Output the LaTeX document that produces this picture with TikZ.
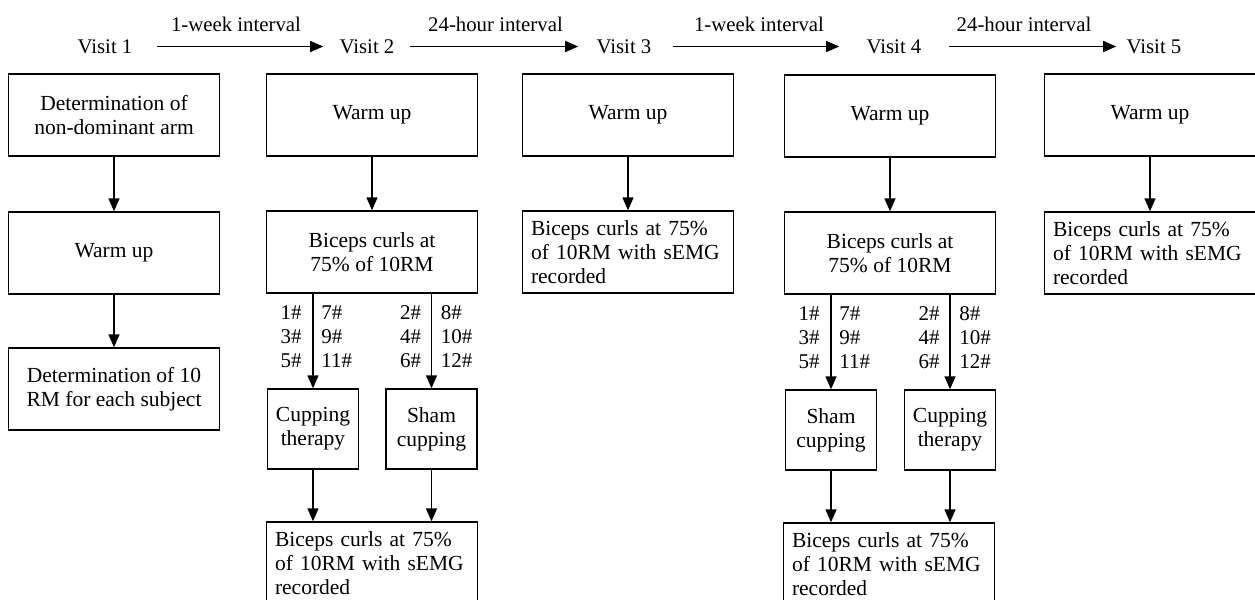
\documentclass[tikz,border=0pt]{standalone}
\usepackage{fontspec}
\setmainfont{Liberation Serif}
\usetikzlibrary{arrows.meta,positioning}

\begin{document}
\begin{tikzpicture}[x=0.5pt, y=-0.5pt,
  box/.style={draw, line width=0.7pt, minimum width=105.5pt, minimum height=41pt,
    inner sep=0pt, align=center, font=\fontsize{10.75}{12}\selectfont},
  leftbox/.style={box, align=left, text width=97pt, inner xsep=4.25pt},
  smallbox/.style={box, minimum width=45.5pt, minimum height=40pt},
  visit/.style={inner sep=0pt, font=\fontsize{10.4}{12}\selectfont},
  gap/.style={inner sep=0pt, font=\fontsize{10.4}{12}\selectfont},
  num/.style={inner sep=0pt, font=\fontsize{10.5}{12}\selectfont},
  arr/.style={line width=0.7pt, -{Triangle[length=6.5pt, width=5.5pt]}}]

  \useasboundingbox (0,0) rectangle (1255,600);
  \clip (0,0) rectangle (1255,600);

  % visits along the top
  \node[visit] (v1) at (105,46.5) {Visit 1};
  \node[visit] (v2) at (367,46.5) {Visit 2};
  \node[visit] (v3) at (624,46.5) {Visit 3};
  \node[visit] (v4) at (894,46.5) {Visit 4};
  \node[visit] (v5) at (1154,46.5) {Visit 5};

  \draw[arr, shorten <=12pt, shorten >=8pt] (v1) -- node[gap, above=7pt] {1-week interval} (v2);
  \draw[arr, shorten <=7.5pt, shorten >=9pt] (v2) -- node[gap, above=7pt] {24-hour interval} (v3);
  \draw[arr, shorten <=10.5pt, shorten >=13.5pt] (v3) -- node[gap, above=7pt] {1-week interval} (v4);
  \draw[arr, shorten <=13.5pt, shorten >=5pt] (v4) -- node[gap, above=7pt] {24-hour interval} (v5);

  % visit 1
  \node[box] (A1) at (114,115) {Determination of\\non-dominant arm};
  \node[box] (A2) at (114,253) {Warm up};
  \node[box] (A3) at (114,389) {Determination of 10\\RM for each subject};
  \draw[arr] (A1) -- (A2);
  \draw[arr] (A2) -- (A3);

  % visit 2
  \node[box] (B1) at (372,115) {Warm up};
  \node[box] (B2) at (372,252) {Biceps curls at\\75\% of 10RM};
  \node[smallbox] (B3) at (313,429) {Cupping\\therapy};
  \node[smallbox] (B4) at (431.5,429) {Sham\\cupping};
  \node[leftbox] (B5) at (372,563) {Biceps curls at 75\%\\of 10RM with sEMG\\recorded};
  \draw[arr] (B1) -- (B2);
  \draw[arr] (B2.south -| B3.north) -- coordinate[pos=0.45] (bm1) (B3.north);
  \draw[arr] (B2.south -| B4.north) -- coordinate[pos=0.45] (bm2) (B4.north);
  \node[num, left=5.5pt of bm1, align=right] (bn1) {1\#\\3\#\\5\#};
  \node[num, right=4pt of bm1, align=left] (bn2) {7\#\\9\#\\11\#};
  \node[num, left=5pt of bm2, align=right] (bn3) {2\#\\4\#\\6\#};
  \node[num, right=4.5pt of bm2, align=left] (bn4) {8\#\\10\#\\12\#};
  \draw[arr] (B3) -- (B3.south |- B5.north);
  \draw[arr] (B4) -- (B4.south |- B5.north);

  % visit 3
  \node[box] (C1) at (628,115) {Warm up};
  \node[leftbox] (C2) at (628,252) {Biceps curls at 75\%\\of 10RM with sEMG\\recorded};
  \draw[arr] (C1) -- (C2);

  % visit 4
  \node[box] (D1) at (890,116) {Warm up};
  \node[box] (D2) at (890,253) {Biceps curls at\\75\% of 10RM};
  \node[smallbox] (D3) at (831,430) {Sham\\cupping};
  \node[smallbox] (D4) at (950,430) {Cupping\\therapy};
  \node[leftbox] (D5) at (889,564) {Biceps curls at 75\%\\of 10RM with sEMG\\recorded};
  \draw[arr] (D1) -- (D2);
  \draw[arr] (D2.south -| D3.north) -- coordinate[pos=0.45] (dm1) (D3.north);
  \draw[arr] (D2.south -| D4.north) -- coordinate[pos=0.45] (dm2) (D4.north);
  \node[num, left=5.5pt of dm1, align=right] (dn1) {1\#\\3\#\\5\#};
  \node[num, right=4pt of dm1, align=left] (dn2) {7\#\\9\#\\11\#};
  \node[num, left=5pt of dm2, align=right] (dn3) {2\#\\4\#\\6\#};
  \node[num, right=4.5pt of dm2, align=left] (dn4) {8\#\\10\#\\12\#};
  \draw[arr] (D3) -- (D3.south |- D5.north);
  \draw[arr] (D4) -- (D4.south |- D5.north);

  % visit 5
  \node[box] (E1) at (1150,115) {Warm up};
  \node[leftbox] (E2) at (1150,253) {Biceps curls at 75\%\\of 10RM with sEMG\\recorded};
  \draw[arr] (E1) -- (E2);
\end{tikzpicture}
\end{document}
